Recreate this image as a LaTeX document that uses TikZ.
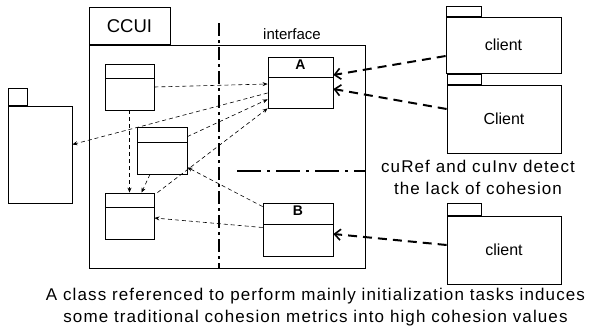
\documentclass[tikz,border=0pt]{standalone}
\usepackage{fontspec}
\setmainfont{Liberation Sans}
\usetikzlibrary{arrows.meta,positioning}
\newcommand{\notefont}{\fontsize{17}{22}\selectfont\addfontfeature{LetterSpace=6.5}}

\begin{document}
\begin{tikzpicture}[
    x=1pt, y=-1pt,
    classbox/.style={draw, line width=0.8pt, inner sep=0pt,
        path picture={\draw[line width=0.8pt] ([yshift=-#1]path picture bounding box.north west) -- ([yshift=-#1]path picture bounding box.north east);}},
    classname/.style={anchor=north, inner sep=3pt, font=\fontsize{14}{16}\selectfont\bfseries},
    pkgbody/.style={draw, line width=0.8pt, inner sep=0pt, align=center, font=\fontsize{16}{19}\selectfont},
    pkgtab/.style={draw, line width=0.8pt, inner sep=0pt},
    dep/.style={-{Stealth[length=5pt,width=4pt]}, line width=0.6pt, dash pattern=on 4pt off 3pt},
    clientarrow/.style={-{Straight Barb[length=6pt,width=11pt,line width=1.6pt]}, line width=2pt, dash pattern=on 9pt off 6pt},
    sepline/.style={line width=2.2pt, dash pattern=on 13pt off 4pt on 3pt off 4pt}
]
\useasboundingbox (0,0) rectangle (590,332);

% package CCUI
\node[pkgbody, minimum width=276pt, minimum height=223pt] (ccui) at (227,156.5) {};
\node[pkgtab, minimum width=81pt, minimum height=37pt, font=\fontsize{18.5}{20}\selectfont,
      above right=0pt and 0pt of ccui.north west] (ccuitab) {CCUI};
\node[font=\fontsize{15}{17}\selectfont] (iflabel) at (292,34) {interface};

% classes
\node[classbox=14pt, minimum width=49pt, minimum height=46pt] (c1) at (129.5,87) {};
\node[classbox=15pt, minimum width=50pt, minimum height=47pt] (c2) at (162,150.5) {};
\node[classbox=14pt, minimum width=49pt, minimum height=46pt] (c3) at (129.5,216) {};
\node[classbox=20pt, minimum width=65pt, minimum height=51pt,
      label={[classname]north:A}] (clA) at (300.5,82.5) {};
\node[classbox=21pt, minimum width=70pt, minimum height=53pt,
      label={[classname]north:B}] (clB) at (298,229.5) {};

% other packages
\node[pkgbody, minimum width=64pt, minimum height=97pt] (other) at (40,154.5) {};
\node[pkgtab, minimum width=19pt, minimum height=17pt, above right=0pt and 0pt of other.north west] (othertab) {};

\node[pkgbody, minimum width=115pt, minimum height=56pt] (client1) at (503.5,45) {client};
\node[pkgtab, minimum width=35pt, minimum height=10pt, above right=0pt and 0pt of client1.north west] (client1tab) {};
\node[pkgbody, minimum width=114pt, minimum height=68pt] (client2) at (504,119) {Client};
\node[pkgtab, minimum width=34pt, minimum height=10pt, above right=0pt and 0pt of client2.north west] (client2tab) {};
\node[pkgbody, minimum width=114pt, minimum height=68pt] (client3) at (504,250) {client};
\node[pkgtab, minimum width=34pt, minimum height=12pt, above right=0pt and 0pt of client3.north west] (client3tab) {};

% separators
\coordinate (septop) at (219,23);
\coordinate (sepleft) at (237,171);
\draw[sepline] (septop) -- (septop |- ccui.south);
\draw[line width=2.2pt, dash pattern=on 24pt off 6pt on 3pt off 6pt] (sepleft) -- (sepleft -| ccui.east);

% dependencies
\draw[dep] (c1.east) -- ([yshift=-1.5pt]clA.west);
\draw[dep] ([yshift=-10.5pt]clA.west) -- ([yshift=10pt]other.east);
\draw[dep] ([yshift=-10pt]c2.north east) -- ([yshift=9pt]clA.south west);
\draw[dep] ([xshift=3pt]c3.north east) -- (clA.south west);
\draw[dep] (c1.south) -- (c3.north);
\draw[dep] ([xshift=-12pt]c2.south) -- ([xshift=12pt]c3.north);
\draw[dep] ([yshift=-4pt]clB.north west) -- ([yshift=7pt]c2.south east);
\draw[dep] ([yshift=2pt]clB.west) -- ([yshift=-2pt]c3.east);

\draw[clientarrow] ([yshift=-11pt]client1.west) -- ([yshift=7.5pt]clA.east);
\draw[clientarrow] ([yshift=10pt]client2.west) -- ([yshift=-6.5pt]clA.east);
\draw[clientarrow] ([yshift=5pt]client3.west) -- ([yshift=-4.5pt]clB.east);

% notes
\node[align=center, font=\notefont] (note) at (478,177) {cuRef and cuInv detect\\the lack of cohesion};
\node[align=center, font=\notefont] (caption) at (315.5,307) {A class referenced to perform mainly initialization tasks induces\\some traditional cohesion metrics into high cohesion values};

\end{tikzpicture}
\end{document}
